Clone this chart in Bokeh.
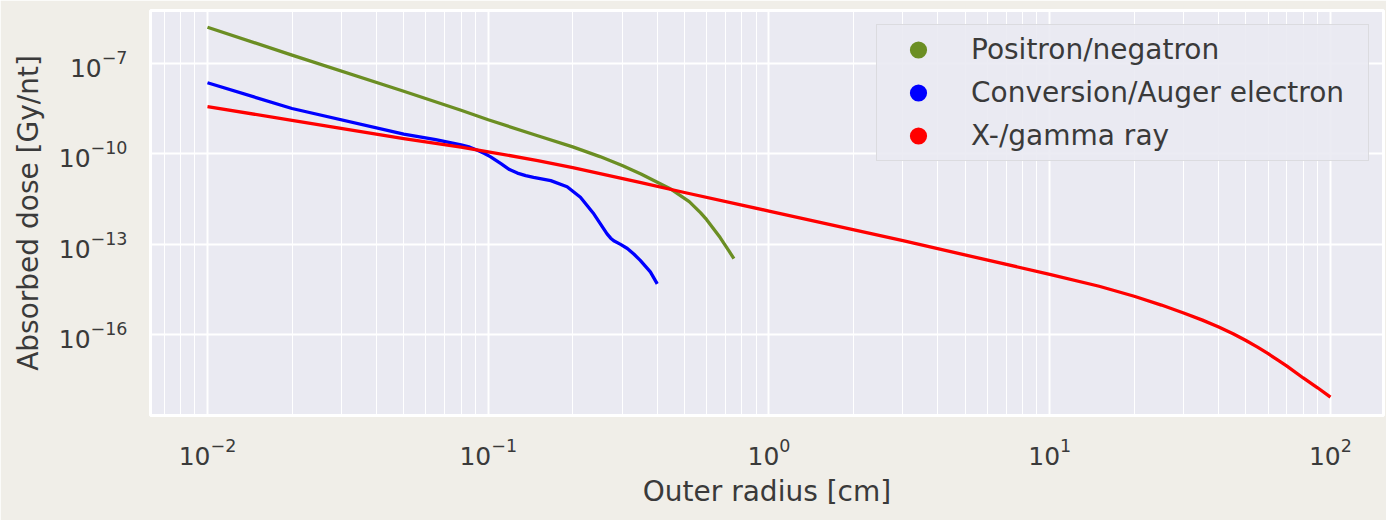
from bokeh.plotting import figure
from bokeh.models import (ColumnDataSource, Range1d, FixedTicker, LogTickFormatter,
                          Legend, LegendItem)
from bokeh.embed import file_html
from bokeh.resources import INLINE

# ---- data ----
positron_r = [0.01, 0.02, 0.05, 0.08, 0.1, 0.15, 0.2, 0.25, 0.3, 0.35, 0.45, 0.52, 0.57, 0.6,
              0.67, 0.72, 0.75]
positron_dose = [1.6e-6, 1.9e-7, 1.2e-8, 2.8e-9, 1.35e-9, 4.0e-10, 1.7e-10, 8.1e-11, 4.1e-11,
                 2.14e-11, 6.5e-12, 2.6e-12, 1.12e-12, 6.5e-13, 1.66e-13, 6.0e-14, 3.3e-14]

auger_r = [0.01, 0.02, 0.05, 0.065, 0.08, 0.086, 0.092, 0.097, 0.102, 0.111, 0.119, 0.127,
           0.136, 0.145, 0.167, 0.191, 0.213, 0.238, 0.265, 0.273, 0.28, 0.295, 0.313, 0.33,
           0.348, 0.378, 0.40]
auger_dose = [2.3e-8, 3.2e-9, 4.5e-10, 2.95e-10, 2.0e-10, 1.66e-10, 1.29e-10, 1.02e-10,
              7.9e-11, 4.7e-11, 3.0e-11, 2.3e-11, 1.9e-11, 1.66e-11, 1.29e-11, 8.1e-12,
              3.6e-12, 1.0e-12, 2.2e-13, 1.58e-13, 1.3e-13, 1.0e-13, 7.2e-14, 4.7e-14,
              2.9e-14, 1.2e-14, 4.8e-15]

xray_r = [0.01, 0.02, 0.05, 0.08, 0.1, 0.15, 0.2, 0.35, 0.5, 1.0, 3.0, 10, 15, 20, 25, 30,
          35, 40, 45, 50, 55, 60, 65, 70, 80, 90, 100]
xray_dose = [3.7e-9, 1.3e-9, 3.2e-10, 1.66e-10, 1.17e-10, 6.0e-11, 3.5e-11, 1.1e-11, 5.2e-12,
             1.26e-12, 1.3e-13, 1.0e-14, 4.0e-15, 1.86e-15, 9.5e-16, 5.2e-16, 3.0e-16,
             1.78e-16, 1.06e-16, 6.3e-17, 3.8e-17, 2.3e-17, 1.41e-17, 8.9e-18, 3.6e-18,
             1.7e-18, 8.3e-19]

labels = ["Positron/negatron", "Conversion/Auger electron", "X-/gamma ray"]
colors = ["#6B8E23", "#0000FF", "#FF0000"]

x_major = [1e-2, 1e-1, 1e0, 1e1, 1e2]
y_major = [1e-16, 1e-13, 1e-10, 1e-7]

FONT = "DejaVu Sans"
TXT = "#3a3a3a"

p = figure(width=1386, height=520, x_axis_type="log", y_axis_type="log",
           x_range=Range1d(10 ** -2.203, 10 ** 2.189),
           y_range=Range1d(10 ** -18.69, 10 ** -5.24),
           output_backend="svg", toolbar_location=None,
           min_border_left=150, min_border_right=3, min_border_top=10, min_border_bottom=105)

p.background_fill_color = "#EAEAF2"
p.border_fill_color = "#F0EEE8"
p.outline_line_color = "white"
p.outline_line_width = 3

# grids
p.xaxis.ticker = FixedTicker(ticks=x_major,
                             minor_ticks=[m * 10.0 ** e for e in range(-3, 3) for m in range(2, 10)])
p.yaxis.ticker = FixedTicker(ticks=y_major, minor_ticks=[])
p.xgrid.grid_line_color = "white"
p.xgrid.grid_line_width = 2
p.xgrid.minor_grid_line_color = "white"
p.xgrid.minor_grid_line_width = 1
p.ygrid.grid_line_color = "white"
p.ygrid.grid_line_width = 2

for ax in (p.xaxis[0], p.yaxis[0]):
    ax.formatter = LogTickFormatter()
    ax.axis_line_color = None
    ax.major_tick_line_color = None
    ax.minor_tick_line_color = None
    ax.major_label_text_font = FONT
    ax.major_label_text_font_size = "25px"
    ax.major_label_text_color = TXT
    ax.axis_label_text_font = FONT
    ax.axis_label_text_font_size = "28px"
    ax.axis_label_text_font_style = "normal"
    ax.axis_label_text_color = TXT

p.xaxis.axis_label = "Outer radius [cm]"
p.yaxis.axis_label = "Absorbed dose [Gy/nt]"
p.xaxis.major_label_standoff = 16
p.xaxis.axis_label_standoff = 7
p.yaxis.major_label_standoff = 17
p.yaxis.axis_label_standoff = 11

series = [(positron_r, positron_dose), (auger_r, auger_dose), (xray_r, xray_dose)]
items = []
for (xs, ys), lab, col in zip(series, labels, colors):
    src = ColumnDataSource(dict(x=xs, y=ys))
    p.line("x", "y", source=src, line_color=col, line_width=3.3, line_join="round")
    dot = p.scatter("x", "y", source=src, size=0, fill_color=col, line_color=None)
    items.append(LegendItem(label=lab, renderers=[dot]))

legend = Legend(items=items, location="top_right", margin=14)
legend.label_text_font = FONT
legend.label_text_font_size = "28px"
legend.label_text_color = TXT
legend.glyph_width = 76
legend.glyph_height = 43
legend.label_height = 43
legend.label_width = 394
legend.label_standoff = 15
legend.spacing = 0
legend.padding = 3
legend.background_fill_color = "#EAEAF2"
legend.background_fill_alpha = 0.9
legend.border_line_color = "#CCCCCC"
legend.border_line_width = 1.5
p.add_layout(legend, "center")

open("out.html", "w").write(file_html(p, INLINE))
